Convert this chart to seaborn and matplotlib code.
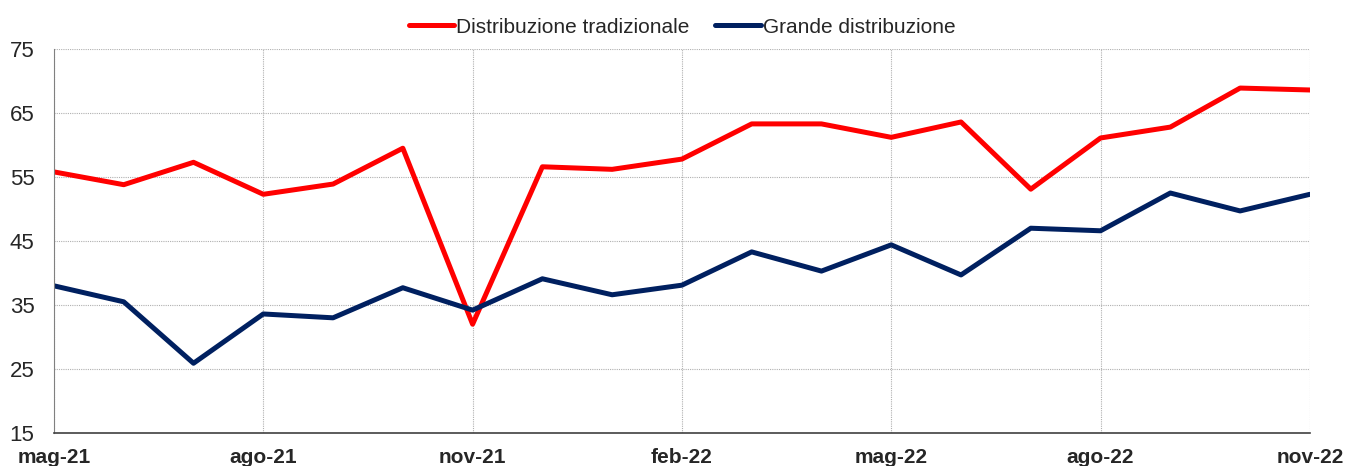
import pandas as pd
import numpy as np
import matplotlib
matplotlib.use("Agg")
import matplotlib.pyplot as plt
import seaborn as sns

# data (monthly, mag-21 .. nov-22)
months = ["mag-21", "giu-21", "lug-21", "ago-21", "set-21", "ott-21", "nov-21",
          "dic-21", "gen-22", "feb-22", "mar-22", "apr-22", "mag-22", "giu-22",
          "lug-22", "ago-22", "set-22", "ott-22", "nov-22"]
tradizionale = [55.8, 53.8, 57.3, 52.3, 53.9, 59.5, 32.0, 56.6, 56.2, 57.8,
                63.3, 63.3, 61.2, 63.6, 53.1, 61.1, 62.8, 68.9, 68.6]
grande = [38.0, 35.5, 25.9, 33.6, 33.0, 37.7, 34.2, 39.1, 36.6, 38.1,
          43.3, 40.3, 44.4, 39.7, 47.0, 46.6, 52.5, 49.7, 52.3]
tick_labels = ["mag-21", "ago-21", "nov-21", "feb-22", "mag-22", "ago-22", "nov-22"]
y_ticks = [15, 25, 35, 45, 55, 65, 75]

df = pd.DataFrame({
    "idx": list(range(len(months))) * 2,
    "value": tradizionale + grande,
    "serie": ["Distribuzione tradizionale"] * len(months) + ["Grande distribuzione"] * len(months),
})

sns.set_style("white")
plt.rcParams['font.family'] = ['Liberation Sans', 'DejaVu Sans']

fig = plt.figure(figsize=(13.49, 4.66), dpi=100)
ax = fig.add_axes([0.040, 0.0708, 0.931, 0.824])

sns.lineplot(data=df, x="idx", y="value", hue="serie",
             palette={"Distribuzione tradizionale": "#ff0000", "Grande distribuzione": "#002060"},
             linewidth=3.6, ax=ax, legend=True)

ax.set_xlim(0, len(months) - 1)
ax.set_ylim(15, 75)
ax.set_yticks(y_ticks)
ax.set_xticks([months.index(m) for m in tick_labels])
ax.set_xticklabels(tick_labels, fontsize=15, fontweight="bold")
ax.tick_params(axis="y", labelsize=16, length=0, pad=14)
ax.tick_params(axis="x", length=0, pad=11)
ax.set_xlabel("")
ax.set_ylabel("")

ax.grid(True, color="#b0b0b0", linestyle=(0, (1, 1)), linewidth=0.8)
for s in ["top", "right"]:
    ax.spines[s].set_visible(False)
ax.spines["left"].set_color("#808080")
ax.spines["bottom"].set_color("#404040")
ax.spines["bottom"].set_linewidth(1.2)

leg = ax.legend(loc="lower center", bbox_to_anchor=(0.5, 1.0), ncol=2, frameon=False,
                fontsize=15, handlelength=2.2, handletextpad=0.1, columnspacing=1.2,
                borderaxespad=0.2)

fig.savefig("out.png", dpi=100)
